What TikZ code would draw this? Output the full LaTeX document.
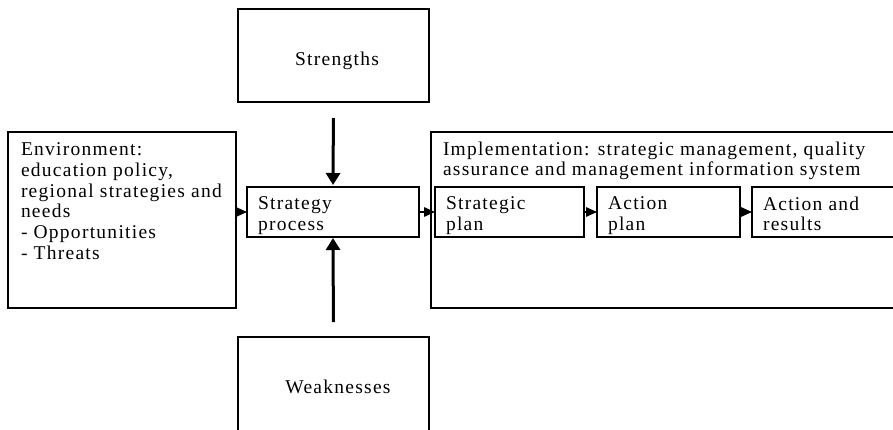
\documentclass[tikz,border=0pt]{standalone}
\usepackage{fontspec}
\setmainfont{Liberation Serif}[LetterSpace=6.5]
\usetikzlibrary{arrows.meta}
\tikzset{
  box/.style={draw, line width=1.5pt, rectangle, anchor=north west, inner sep=0pt, outer sep=0pt},
  txt/.style={inner sep=0pt, outer sep=0pt, align=left, font=\fontsize{19.5}{20.8}\selectfont},
  varrow/.style={line width=3pt, -{Triangle[length=12pt,width=14pt]}},
  harrow/.style={line width=1.5pt, -{Triangle[length=11pt,width=9.5pt]}}
}
\begin{document}
\begin{tikzpicture}[x=1pt,y=-1pt]
\useasboundingbox (0,0) rectangle (893,429);
\clip (0,0) rectangle (893,429);
% boxes
\node[box, minimum width=191pt, minimum height=93pt] (str) at (238,9) {};
\node[box, minimum width=191pt, minimum height=103pt] (weak) at (238,337) {};
\node[box, minimum width=228pt, minimum height=176pt] (env) at (8,132) {};
\node[box, minimum width=172pt, minimum height=50pt] (proc) at (247,187) {};
\node[box, minimum width=474pt, minimum height=176pt] (impl) at (431,132) {};
\node[box, minimum width=149pt, minimum height=50pt] (splan) at (435,187) {};
\node[box, minimum width=143pt, minimum height=50pt] (aplan) at (597,187) {};
\node[box, minimum width=153pt, minimum height=50pt] (ares) at (752,187) {};
% texts
\node[txt, anchor=base] (strt) at (337,65.5) {Strengths};
\node[txt, anchor=base] (weakt) at (338,393) {Weaknesses};
\node[txt, anchor=north west] (envt) at (21,142.5) {Environment:\\education policy,\\regional strategies and\\needs\\- Opportunities\\- Threats};
\node[txt, anchor=north west] (implt) at (443,141.5) {Implementation: strategic management, quality\\assurance and management information system};
\node[txt, anchor=north west] (proct) at (258,197) {Strategy\\process};
\node[txt, anchor=north west] (splant) at (446,196.5) {Strategic\\plan};
\node[txt, anchor=north west] (aplant) at (608,196.5) {Action\\plan};
\node[txt, anchor=north west] (arest) at (763,196.5) {Action and\\results};
% arrows
\draw[varrow, shorten <=16pt, shorten >=2pt] (str.south) -- (proc.north);
\draw[varrow, shorten <=15pt, shorten >=1pt] (weak.north) -- (proc.south);
\draw[harrow] (env.east |- proc.west) -- (proc.west);
\draw[harrow] (proc.east) -- (splan.west);
\draw[harrow] (splan.east) -- (aplan.west);
\draw[harrow] (aplan.east) -- (ares.west);
\end{tikzpicture}
\end{document}
